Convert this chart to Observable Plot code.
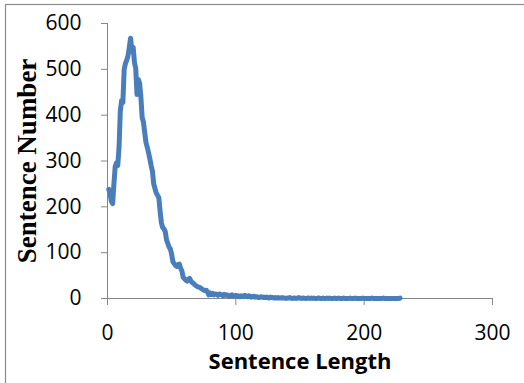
<!DOCTYPE html>
<html>
<head>
<meta charset="utf-8">
<script src="https://cdn.jsdelivr.net/npm/d3@7"></script>
<script src="https://cdn.jsdelivr.net/npm/@observablehq/plot@0.6"></script>
<style>
  html, body { margin: 0; padding: 0; background: #fff; }
</style>
</head>
<body>
<div id="chart"></div>
<script>
// Sentence length (x) starts at 1; counts
const startLength = 1;
const sentenceCounts = [
  238, 228, 212, 207, 250, 288, 296, 290, 330, 410,
  432, 428, 500, 513, 520, 530, 548, 568, 540, 548,
  515, 502, 445, 478, 470, 440, 395, 385, 362, 340,
  330, 318, 305, 290, 278, 250, 240, 230, 225, 220,
  190, 165, 155, 152, 146, 128, 120, 112, 108, 96,
  80, 76, 72, 70, 74, 75, 66, 60, 46, 43,
  40, 38, 42, 44, 38, 35, 33, 30, 28, 26,
  25, 24, 22, 20, 18, 17, 18, 14, 8, 12,
  9, 11, 8, 10, 9, 7, 10, 9, 8, 6,
  9, 7, 8, 6, 5, 7, 8, 5, 6, 7,
  5, 6, 4, 6, 5, 4, 7, 5, 4, 6,
  5, 3, 4, 5, 3, 4, 3, 2, 3, 4,
  2, 3, 2, 3, 2, 1, 3, 2, 2, 1,
  2, 1, 2, 1, 1, 2, 1, 1, 0, 1,
  1, 2, 1, 0, 1, 1, 0, 1, 2, 1,
  0, 1, 1, 0, 0, 1, 1, 0, 1, 0,
  1, 0, 0, 1, 1, 0, 0, 1, 0, 0,
  1, 0, 1, 0, 0, 0, 1, 0, 0, 1,
  0, 0, 0, 1, 0, 0, 0, 0, 1, 0,
  0, 0, 1, 0, 0, 0, 0, 0, 1, 0,
  0, 0, 0, 0, 0, 1, 0, 0, 0, 0,
  0, 0, 0, 0, 1, 0, 0, 0, 0, 0,
  0, 0, 0, 0, 0, 0, 0, 1
];
const xTicks = [0, 100, 200, 300];
const yTicks = [0, 100, 200, 300, 400, 500, 600];
const xLabel = "Sentence Length";
const yLabel = "Sentence Number";

const data = sentenceCounts.map((v, i) => ({length: startLength + i, count: v}));

const axisGray = "#868686";
const lineBlue = "#4A7EBB";
const tickFont = "'Open Sans', sans-serif";

const chart = Plot.plot({
  width: 524,
  height: 383,
  marginLeft: 107,
  marginRight: 32,
  marginTop: 23,
  marginBottom: 85,
  x: {domain: [0, 300], axis: null},
  y: {domain: [0, 600], axis: null},
  style: {background: "#fff", fontFamily: tickFont, overflow: "visible"},
  marks: [
    Plot.ruleX([0], {y1: 0, y2: 600, stroke: axisGray, strokeWidth: 1}),
    Plot.ruleY([0], {x1: 0, x2: 300, stroke: axisGray, strokeWidth: 1}),
    Plot.axisY({ticks: yTicks, tickSize: 6, tickPadding: 20, stroke: axisGray, fill: "#000",
      fontSize: 21, fontFamily: tickFont, label: null}),
    Plot.axisX({ticks: xTicks, tickSize: 7, tickPadding: 20, stroke: axisGray, fill: "#000",
      fontSize: 21, fontFamily: tickFont, label: null}),
    Plot.line(data, {x: "length", y: "count", stroke: lineBlue, strokeWidth: 5,
      strokeLinejoin: "round", strokeLinecap: "round"}),
    Plot.text([xLabel], {frameAnchor: "bottom", dy: 70, fontSize: 22, fontWeight: "bold",
      fontFamily: tickFont, fill: "#000", textAnchor: "middle"}),
    Plot.text([yLabel], {frameAnchor: "left", dx: -80, rotate: -90, fontSize: 27, fontWeight: "bold",
      textAnchor: "middle",
      fontFamily: "'Liberation Serif', 'Times New Roman', serif", fill: "#000"})
  ]
});

const svg = d3.select(chart);
svg.insert("rect", ":first-child")
  .attr("x", 5.5).attr("y", 4.5).attr("width", 700).attr("height", 700)
  .attr("fill", "none").attr("stroke", "#8c8c8c").attr("stroke-width", 1.2);

document.getElementById("chart").appendChild(chart);
</script>
</body>
</html>
